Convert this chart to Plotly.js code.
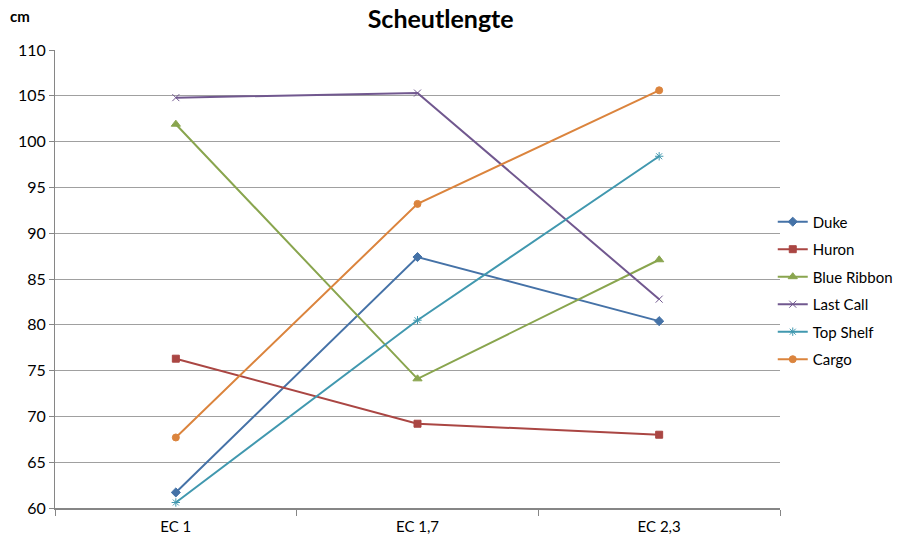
<!DOCTYPE html>
<html><head><meta charset="utf-8">
<script src="https://cdn.plot.ly/plotly-3.0.1.min.js"></script>
<style>body{margin:0;background:#fff}#c{width:903px;height:541px}</style>
</head><body><div id="c"></div>
<script>
const categories = ["EC 1", "EC 1,7", "EC 2,3"];
const duke = [61.7, 87.4, 80.4];
const huron = [76.3, 69.2, 68.0];
const blueRibbon = [101.9, 74.1, 87.1];
const lastCall = [104.8, 105.3, 82.8];
const topShelf = [60.6, 80.5, 98.4];
const cargo = [67.7, 93.2, 105.6];
const yTicks = [60, 65, 70, 75, 80, 85, 90, 95, 100, 105, 110];

const series = [
  {name: "Duke", y: duke, color: "#4572A7", symbol: "diamond", size: 7},
  {name: "Huron", y: huron, color: "#AA4643", symbol: "square", size: 7},
  {name: "Blue Ribbon", y: blueRibbon, color: "#89A54E", symbol: "triangle-up", size: 8},
  {name: "Last Call", y: lastCall, color: "#71588F", symbol: "x-thin-open", size: 7},
  {name: "Top Shelf", y: topShelf, color: "#4198AF", symbol: "asterisk-open", size: 7},
  {name: "Cargo", y: cargo, color: "#DB843D", symbol: "circle", size: 7}
];

const data = series.map(s => ({
  type: "scatter", mode: "lines+markers", name: s.name, legendgroup: s.name,
  x: categories, y: s.y,
  line: {color: s.color, width: 2},
  marker: {symbol: s.symbol, size: s.size, color: s.color, line: {color: s.color, width: 1}}
}));

const layout = {
  width: 903, height: 541,
  margin: {l: 55, r: 123, t: 50, b: 33, autoexpand: false},
  paper_bgcolor: "#ffffff", plot_bgcolor: "#ffffff",
  font: {family: "Lato, 'Open Sans', sans-serif", size: 14, color: "#000"},
  title: {text: "<b>Scheutlengte</b>", x: 0.488, xanchor: "center", y: 0.965, yanchor: "middle",
          font: {size: 25, family: "Lato, sans-serif", color: "#000"}},
  xaxis: {type: "category", range: [-0.5, 2.5], showgrid: false, showline: true,
          linecolor: "#868686", linewidth: 2, ticks: "outside", tickson: "boundaries",
          ticklen: 6, tickcolor: "#868686", tickfont: {size: 15}, ticklabelstandoff: 4,
          zeroline: false, fixedrange: true},
  yaxis: {range: [60, 110], tickvals: yTicks, showgrid: true, gridcolor: "#a0a0a0", gridwidth: 1,
          showline: true, linecolor: "#868686", linewidth: 1, ticks: "outside", ticklen: 5,
          tickcolor: "#868686", tickfont: {size: 16}, zeroline: false, fixedrange: true},
  legend: {x: 0.99, xanchor: "left", y: 0.475, yanchor: "middle", font: {size: 15},
           traceorder: "grouped", tracegroupgap: 5, itemwidth: 30, bgcolor: "rgba(0,0,0,0)"},
  annotations: [{text: "<b>cm</b>", xref: "paper", yref: "paper", x: -0.065, y: 1.075,
                 xanchor: "left", yanchor: "middle", showarrow: false, font: {size: 15, color: "#000"}}]
};

Plotly.newPlot("c", data, layout, {displayModeBar: false, staticPlot: true});
</script></body></html>
